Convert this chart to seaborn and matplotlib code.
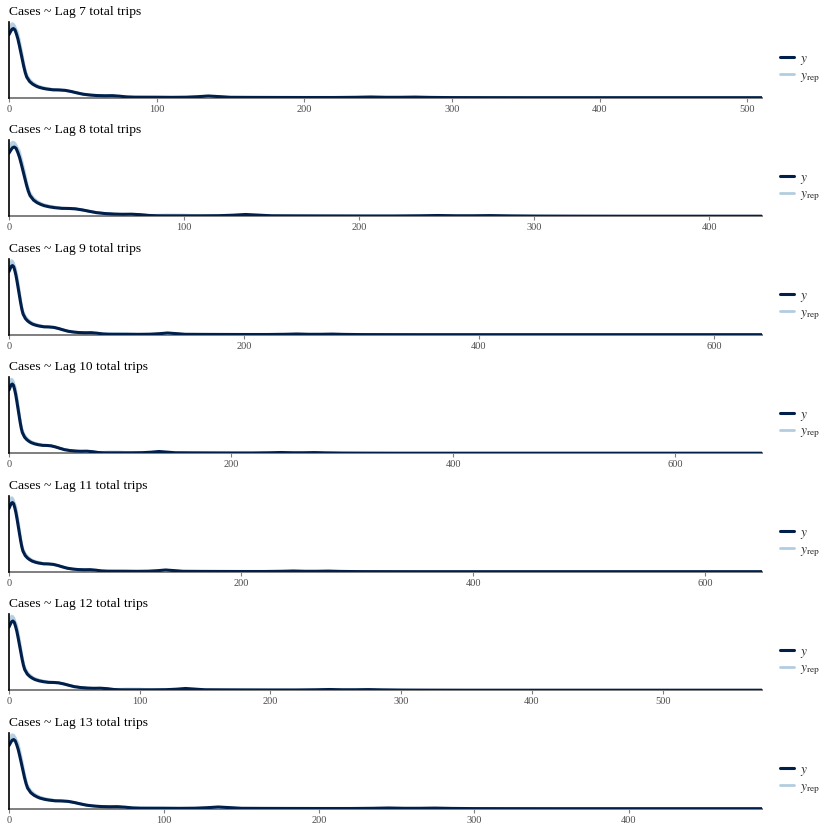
import numpy as np
import pandas as pd
import matplotlib
matplotlib.use('Agg')
import matplotlib.pyplot as plt
import seaborn as sns

# Panels: lag of total trips, x range (max of y / yrep) and tick step per panel
lags = [7, 8, 9, 10, 11, 12, 13]
x_max = [510, 430, 641, 678, 649, 576, 486]
tick_step = [100, 100, 200, 200, 200, 100, 100]

# Density grid (cases) shared by all curves
x_grid = [0, 1, 2, 3, 4, 5, 6, 7, 8, 9,
          10, 11, 12, 14, 16, 18, 20, 23, 26, 30,
          34, 38, 42, 46, 50, 55, 60, 65, 70, 75,
          80, 85, 90, 100, 110, 120, 128, 135, 142, 150,
          165, 180, 200, 220, 235, 245, 255, 265, 275, 285,
          300, 320, 350, 400, 700]

y_dens = [62.7, 65.5, 68, 68.7, 67.5, 63.5, 58.5, 52, 45, 38,
          31, 25, 20.5, 16, 13.5, 11.8, 10.5, 9.3, 8.5, 7.8,
          7.7, 7.3, 6.2, 4.8, 3.5, 2.6, 2.1, 1.9, 2.0, 1.5,
          0.7, 0.4, 0.35, 0.35, 0.35, 0.5, 1.0, 1.7, 1.1, 0.4,
          0.3, 0.25, 0.2, 0.2, 0.4, 0.7, 0.4, 0.4, 0.6, 0.3,
          0.1, 0.05, 0, 0, 0]

# A few replicated (yrep) densities (x1000)
yrep_1 = [67.7, 70.5, 73, 73.5, 71.5, 66.5, 61.5, 55, 48, 41,
          33.5, 27.5, 22.5, 17.5, 14.8, 12.9, 11.5, 10.1, 9.2, 8.2,
          7.5, 7.0, 5.9, 4.6, 3.6, 2.8, 2.3, 2.0, 1.8, 1.5,
          1.2, 1.3, 1.6, 1.5, 0.7, 0.5, 0.6, 0.8, 0.7, 0.5,
          0.4, 0.35, 0.3, 0.3, 0.35, 0.4, 0.35, 0.4, 0.45, 0.4,
          0.3, 0.15, 0.05, 0, 0]
yrep_2 = [65.7, 68.5, 71, 71.5, 70.5, 68, 65.5, 59, 52, 44.5,
          36, 29, 23.5, 18.5, 15.5, 13.4, 11.8, 10.5, 9.6, 8.5,
          7.9, 7.4, 6.4, 5.1, 4.0, 3.0, 2.3, 2.0, 1.9, 1.6,
          1.2, 1.0, 0.8, 0.6, 0.5, 0.6, 0.8, 1.1, 0.9, 0.6,
          0.4, 0.3, 0.3, 0.3, 0.4, 0.5, 0.4, 0.3, 0.4, 0.35,
          0.25, 0.2, 0.1, 0.02, 0]
yrep_3 = [69.7, 72.5, 74, 73, 70.5, 64.5, 59.5, 53, 46, 39,
          32, 26, 21.5, 16.7, 14.1, 12.4, 11, 9.8, 9, 8,
          7.7, 7.4, 6.4, 5.1, 3.8, 2.8, 2.1, 1.9, 1.8, 1.4,
          0.9, 0.7, 0.6, 0.5, 0.4, 0.5, 0.7, 1.0, 0.8, 0.5,
          0.35, 0.3, 0.25, 0.25, 0.3, 0.45, 0.35, 0.35, 0.5, 0.35,
          0.2, 0.15, 0.05, 0, 0]
yrep_4 = [64.7, 67.5, 70, 70.5, 69.5, 65.5, 60.5, 54, 47, 40,
          33, 27, 22, 17.3, 14.5, 12.6, 11.2, 9.9, 9.1, 8.1,
          7.8, 7.5, 6.3, 4.9, 3.7, 2.8, 2.2, 2.0, 1.9, 1.5,
          1.0, 0.8, 0.7, 0.55, 0.45, 0.55, 0.75, 1.2, 0.9, 0.5,
          0.35, 0.3, 0.25, 0.25, 0.35, 0.55, 0.4, 0.4, 0.5, 0.35,
          0.2, 0.1, 0.05, 0, 0]
yrep_5 = [63.7, 66.5, 69.5, 70, 69, 65, 60, 53.5, 46.5, 39.5,
          32.5, 26.5, 21.7, 17, 14.3, 12.5, 11.1, 9.7, 8.8, 7.9,
          7.6, 7.3, 6.1, 4.7, 3.5, 2.7, 2.1, 1.9, 1.85, 1.4,
          0.9, 0.7, 0.6, 0.5, 0.45, 0.5, 0.8, 1.3, 0.95, 0.5,
          0.35, 0.3, 0.25, 0.22, 0.35, 0.6, 0.4, 0.38, 0.55, 0.3,
          0.15, 0.1, 0.03, 0, 0]
yrep_all = [yrep_1, yrep_2, yrep_3, yrep_4, yrep_5]

dark = '#011f4b'
light = '#b3cde0'

sns.set_theme(style='white')
plt.rcParams['font.family'] = ['Liberation Serif', 'DejaVu Serif']
plt.rcParams['mathtext.fontset'] = 'stix'

# long table of curves
rows = []
for i, d in enumerate(yrep_all):
    rows.append(pd.DataFrame({'x': x_grid, 'density': np.array(d) / 1000,
                              'curve': 'rep%d' % i, 'kind': 'yrep'}))
rows.append(pd.DataFrame({'x': x_grid, 'density': np.array(y_dens) / 1000,
                          'curve': 'y', 'kind': 'y'}))
curves = pd.concat(rows, ignore_index=True)

W = 830
fig = plt.figure(figsize=(8.3, 8.3), dpi=100)
left = 9 / W
width = (762 - 9) / W
ax_h = 76 / W

for k, lag in enumerate(lags):
    y_bottom = 97.7 + k * 118.5
    ax = fig.add_axes([left, 1 - y_bottom / W, width, ax_h])

    rep = curves[curves['kind'] == 'yrep']
    sns.lineplot(data=rep, x='x', y='density', units='curve', estimator=None,
                 color=light, alpha=0.8, linewidth=1.5, ax=ax, legend=False)
    obs = curves[curves['kind'] == 'y']
    sns.lineplot(data=obs, x='x', y='density', color=dark, linewidth=2.2,
                 ax=ax, legend=False)

    ax.set_xlim(0, x_max[k])
    ax.set_ylim(0, 0.0755)
    ax.set_xticks(np.arange(0, x_max[k] + 1, tick_step[k]))
    ax.set_xlabel('')
    ax.set_ylabel('')
    ax.set_yticks([])
    ax.set_title('Cases ~ Lag %d total trips' % lag, loc='left', fontsize=9.7,
                 pad=5, color='black')
    for s in ['top', 'right']:
        ax.spines[s].set_visible(False)
    ax.spines['left'].set_color('black')
    ax.spines['left'].set_linewidth(1.2)
    ax.spines['bottom'].set_color('#7f7f7f')
    ax.spines['bottom'].set_linewidth(1.4)
    ax.spines['bottom'].set_zorder(0)
    ax.tick_params(axis='x', length=3, width=0.8, color='#7f7f7f',
                   labelsize=7.5, labelcolor='#4d4d4d', pad=2, bottom=True)

    handles = [plt.Line2D([], [], color=dark, linewidth=2.2),
               plt.Line2D([], [], color=light, linewidth=2.0)]
    ax.legend(handles, ['$y$', r'$y_{\mathrm{rep}}$'], loc='center left',
              bbox_to_anchor=(1.008, 0.38), frameon=False, fontsize=9.5,
              handlelength=1.1, handletextpad=0.45, labelspacing=0.2)

fig.savefig('out.png', dpi=100)
